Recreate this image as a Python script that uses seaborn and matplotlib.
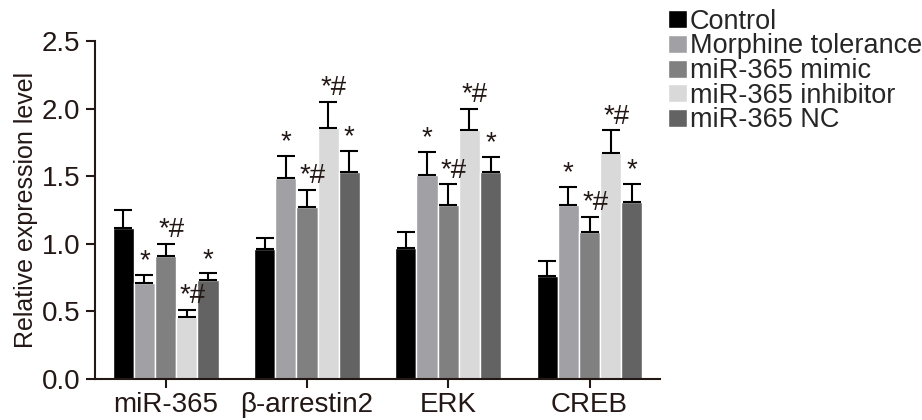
import pandas as pd
import matplotlib
matplotlib.use('Agg')
import matplotlib.pyplot as plt
import seaborn as sns

genes = ['miR-365', 'β-arrestin2', 'ERK', 'CREB']
groups = ['Control', 'Morphine tolerance', 'miR-365 mimic', 'miR-365 inhibitor', 'miR-365 NC']
colors = ['#000000', '#a1a1a5', '#808080', '#d9d9d9', '#636363']

# mean values per group, in gene order
control = [1.12, 0.96, 0.97, 0.76]
morphine = [0.71, 1.49, 1.51, 1.29]
mimic = [0.91, 1.27, 1.29, 1.09]
inhibitor = [0.46, 1.86, 1.84, 1.67]
nc = [0.73, 1.53, 1.53, 1.31]

# upper error (SD)
control_err = [0.13, 0.08, 0.12, 0.11]
morphine_err = [0.06, 0.16, 0.17, 0.13]
mimic_err = [0.09, 0.13, 0.15, 0.11]
inhibitor_err = [0.05, 0.19, 0.16, 0.17]
nc_err = [0.05, 0.16, 0.11, 0.13]

marks = ['', '*', '*#', '*#', '*']


def main():
   means = [control, morphine, mimic, inhibitor, nc]
   errs = [control_err, morphine_err, mimic_err, inhibitor_err, nc_err]
   rows = []
   for g, vals in zip(groups, means):
      for gene, v in zip(genes, vals):
         rows.append({'gene': gene, 'group': g, 'value': v})
   df = pd.DataFrame(rows)

   sns.set_style('ticks')
   plt.rcParams['font.family'] = ['Liberation Sans', 'DejaVu Sans']
   ink = '#231815'

   fig = plt.figure(figsize=(9.22, 4.20), dpi=100)
   ax = fig.add_axes([0.103, 0.098, 0.613, 0.804])
   sns.barplot(data=df, x='gene', y='value', hue='group', palette=colors,
               order=genes, hue_order=groups, errorbar=None, width=0.75,
               edgecolor='white', linewidth=1, ax=ax)

   bar_groups = list(ax.containers)
   for i, cont in enumerate(bar_groups):
      for j, bar in enumerate(cont.patches):
         x = bar.get_x() + bar.get_width() / 2
         top = bar.get_height()
         e = errs[i][j]
         ax.errorbar(x, top, yerr=[[0], [e]], fmt='none', ecolor='black',
                     elinewidth=1.5, capsize=6.5, capthick=1.5)
         if marks[i]:
            dx = 0.04 if marks[i] == '*#' else 0
            ax.text(x + dx, top + e + 0.005, marks[i], ha='center', va='bottom',
                    fontsize=20, color=ink)

   ax.set_ylim(0, 2.5)
   ax.set_xlim(-0.5, 3.5)
   ax.set_yticks([0, 0.5, 1.0, 1.5, 2.0, 2.5])
   ax.set_yticklabels(['0.0', '0.5', '1.0', '1.5', '2.0', '2.5'])
   ax.set_xlabel('')
   ax.set_ylabel('Relative expression level', fontsize=18, color=ink, labelpad=3)
   ax.tick_params(axis='both', labelsize=20, width=1.5, length=6.5, colors=ink, pad=4)
   ax.tick_params(axis='x', pad=3)
   for s in ['left', 'bottom']:
      ax.spines[s].set_linewidth(1.5)
      ax.spines[s].set_color(ink)
   sns.despine(ax=ax)

   ax.legend(loc='upper left', bbox_to_anchor=(0.725, 0.979), bbox_transform=fig.transFigure,
             frameon=False, fontsize=19.5, handlelength=0.7, handleheight=0.65,
             handletextpad=0.08, labelspacing=-0.05, borderaxespad=0, borderpad=0)

   plt.savefig('out.png', dpi=100)


if __name__ == '__main__':
   main()
